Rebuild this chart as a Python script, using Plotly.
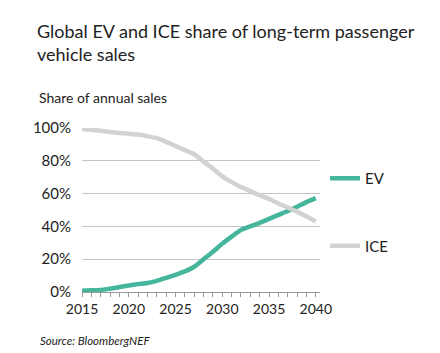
import plotly.graph_objects as go

years = [2015, 2016, 2017, 2018, 2019, 2020, 2021, 2022, 2023, 2024, 2025, 2026, 2027,
         2028, 2029, 2030, 2031, 2032, 2033, 2034, 2035, 2036, 2037, 2038, 2039, 2040]
ev_share = [0.8, 1.0, 1.3, 2.0, 3.0, 4.0, 4.8, 5.5, 6.8, 8.6, 10.5, 12.6, 15.4,
            20.0, 24.5, 29.5, 33.8, 37.8, 40.0, 42.2, 44.6, 47.0, 49.4, 52.0, 54.8, 57.2]
ice_share = [99.4, 99.0, 98.3, 97.5, 97.0, 96.5, 96.0, 95.0, 93.8, 91.5, 89.0, 86.5, 84.0,
             79.5, 75.3, 70.5, 67.0, 64.0, 61.5, 59.0, 56.8, 54.0, 51.5, 49.0, 46.0, 43.0]
y_ticks = [0, 20, 40, 60, 80, 100]
x_ticks = [2015, 2020, 2025, 2030, 2035, 2040]

title_text = "Global EV and ICE share of long-term passenger<br>vehicle sales"
subtitle_text = "Share of annual sales"
source_text = "Source: BloombergNEF"

FONT = "Lato"
TXT = "#222222"
EV_COLOR = "#45b69c"
ICE_COLOR = "#d2d2d2"

fig = go.Figure()
fig.add_trace(go.Scatter(x=years, y=ev_share, mode="lines", name="EV",
                         line=dict(color=EV_COLOR, width=4.5, shape="spline", smoothing=0.6),
                         legendgroup="ev", cliponaxis=False))
fig.add_trace(go.Scatter(x=years, y=ice_share, mode="lines", name="ICE",
                         line=dict(color=ICE_COLOR, width=4.5, shape="spline", smoothing=0.6),
                         legendgroup="ice", cliponaxis=False))

L, R, T, B = 82, 120, 128, 61
W, H = 440, 353
pw, ph = W - L - R, H - T - B

def px_x(x):
    return (x - L) / pw

def px_y(y):
    return (H - B - y) / ph

fig.update_layout(
    width=W, height=H,
    margin=dict(l=L, r=R, t=T, b=B),
    paper_bgcolor="white", plot_bgcolor="white",
    font=dict(family=FONT, color=TXT, size=14),
    title=dict(text=title_text, xref="container", yref="container",
               x=37 / W, y=1 - 38 / H, xanchor="left", yanchor="top",
               font=dict(family=FONT, size=18, color=TXT)),
    showlegend=True,
    legend=dict(x=px_x(325), y=px_y(162), xanchor="left", yanchor="top",
                tracegroupgap=45, bgcolor="rgba(0,0,0,0)",
                font=dict(family=FONT, size=15, color=TXT), itemwidth=30),
    xaxis=dict(range=[2015, 2040.45], tickvals=x_ticks, ticktext=[str(v) for v in x_ticks],
               showgrid=False, zeroline=False, showline=True, linecolor="#9a9a9a", linewidth=1,
               ticks="outside", ticklen=4, tickcolor="#9a9a9a",
               minor=dict(dtick=1, tick0=2015, ticks="outside", ticklen=4, tickcolor="#9a9a9a", showgrid=False),
               tickfont=dict(family=FONT, size=14, color=TXT)),
    yaxis=dict(range=[0, 100], tickvals=y_ticks, ticktext=[f"{v}%" for v in y_ticks],
               showgrid=True, gridcolor="#c4c4c4", gridwidth=1, zeroline=False,
               showline=False, ticks="", ticklabelstandoff=10,
               tickfont=dict(family=FONT, size=15, color=TXT)),
    annotations=[
        dict(text=subtitle_text, xref="paper", yref="paper", x=px_x(37), y=px_y(97),
             xanchor="left", yanchor="middle", showarrow=False,
             font=dict(family=FONT, size=14, color=TXT)),
        dict(text="<i>" + source_text + "</i>", xref="paper", yref="paper", x=px_x(38), y=px_y(340),
             xanchor="left", yanchor="middle", showarrow=False,
             font=dict(family=FONT, size=11.5, color=TXT)),
    ],
)

fig.write_html("out.html")
